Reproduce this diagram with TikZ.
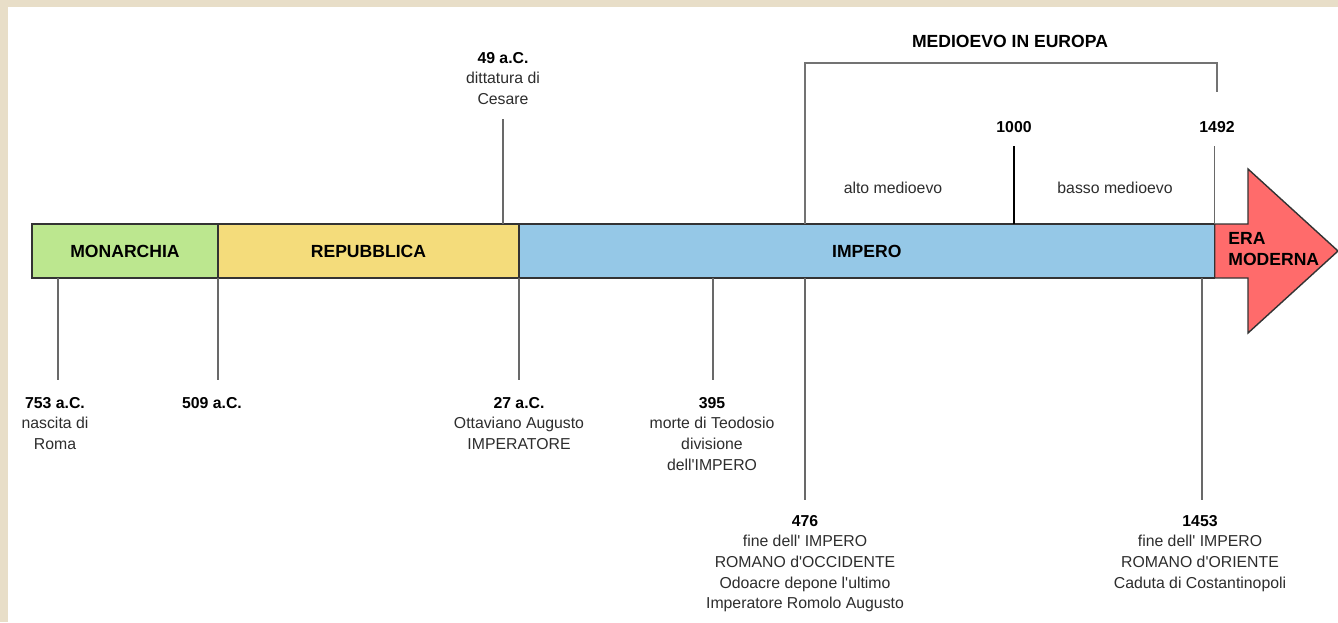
\documentclass[tikz,border=0pt]{standalone}
\usepackage{fontspec}
\setmainfont{Liberation Sans}
\usepackage{xcolor}
\definecolor{tlgreen}{RGB}{188,231,143}
\definecolor{tlyellow}{RGB}{244,220,123}
\definecolor{tlblue}{RGB}{149,200,231}
\definecolor{tlred}{RGB}{255,107,107}
\definecolor{tlframe}{RGB}{232,222,200}
\definecolor{tlgray}{RGB}{105,105,105}
\definecolor{tltext}{RGB}{45,45,45}
\usepackage{tikz}
\usetikzlibrary{positioning, calc}
\newcommand{\apo}{\textquotesingle}

\begin{document}
\begin{tikzpicture}[
  x=0.02cm, y=-0.02cm,
  period/.style={rectangle, draw=black!80, line width=0.8pt, fill=#1, minimum height=1.08cm,
                 inner sep=0pt, outer sep=0pt, anchor=west, font=\fontsize{10}{12}\selectfont\bfseries},
  eventlbl/.style={align=center, inner sep=0pt, anchor=north, text=tltext,
                   font=\fontsize{9}{11.7}\selectfont},
  agelbl/.style={inner sep=0pt, text=tltext, font=\fontsize{9}{11.7}\selectfont},
  tick/.style={draw=tlgray, line width=0.7pt},
  brk/.style={draw=black!55, line width=0.7pt}
]
  % frame
  \fill[tlframe] (0,0) rectangle (1338,622);
  \fill[white] (8,7) rectangle (1338,622);
  \useasboundingbox (0,0) rectangle (1338,622);

  % the bar
  \node[period=tlgreen, minimum width=3.72cm] (mon) at (32,251) {MONARCHIA};
  \node[period=tlyellow, minimum width=6.02cm] (rep) at (mon.east) {REPUBBLICA};
  \node[period=tlblue, minimum width=13.92cm] (imp) at (rep.east) {IMPERO};
  \draw[draw=black!80, line width=0.8pt, fill=tlred] (imp.north east) -- (1248,224) -- (1248,169)
    -- (1338,251) -- (1248,333) -- (1248,278) -- (imp.south east) -- cycle;
  \node[anchor=west, align=left, inner sep=0pt, font=\fontsize{10}{12}\selectfont\bfseries] (era)
    at (1228,249) {ERA\\MODERNA};

  % dates below the bar
  \coordinate (t753) at (58,278);
  \coordinate (t395) at (713,278);
  \coordinate (t476) at (805,278);
  \coordinate (t1453) at (1202,278);
  \node[eventlbl] (l753) at (55,397) {\textbf{\color{black}753 a.C.}\\nascita di\\Roma};
  \node[eventlbl] (l509) at (212,397) {\textbf{\color{black}509 a.C.}};
  \node[eventlbl] (l27) at (519,397) {\textbf{\color{black}27 a.C.}\\Ottaviano Augusto\\IMPERATORE};
  \node[eventlbl] (l395) at (712,397) {\textbf{\color{black}395}\\morte di Teodosio\\divisione\\dell\apo IMPERO};
  \node[eventlbl] (l476) at (805,515)
    {\textbf{\color{black}476}\\fine dell\apo{} IMPERO\\ROMANO d\apo OCCIDENTE\\Odoacre depone l\apo ultimo\\Imperatore Romolo Augusto};
  \node[eventlbl] (l1453) at (1200,515)
    {\textbf{\color{black}1453}\\fine dell\apo{} IMPERO\\ROMANO d\apo ORIENTE\\Caduta di Costantinopoli};

  \draw[tick, shorten >=0.34cm] (t753) -- (l753.north -| t753);
  \draw[tick, shorten >=0.34cm] (mon.south east) -- (l509.north -| mon.south east);
  \draw[tick, shorten >=0.34cm] (rep.south east) -- (l27.north -| rep.south east);
  \draw[tick, shorten >=0.34cm] (t395) -- (l395.north -| t395);
  \draw[tick, shorten >=0.3cm] (t476) -- (l476.north -| t476);
  \draw[tick, shorten >=0.3cm] (t1453) -- (l1453.north -| t1453);

  % dates above the bar
  \coordinate (t49) at (503,224);
  \coordinate (t1000) at (1014,224);
  \node[eventlbl] (l49) at (503,52) {\textbf{\color{black}49 a.C.}\\dittatura di\\Cesare};
  \node[eventlbl] (l1000) at (1014,121) {\textbf{\color{black}1000}};
  \node[eventlbl] (l1492) at (1217,121) {\textbf{\color{black}1492}};
  \draw[tick, shorten >=0.28cm] (t49) -- (l49.south -| t49);
  \draw[line width=0.7pt, shorten >=0.26cm] (t1000) -- (l1000.south -| t1000);
  \draw[tick, shorten >=0.26cm] (imp.north east) -- (l1492.south -| imp.north east);

  % middle ages
  \coordinate (brL) at (805,224);
  \coordinate (brTL) at (805,63);
  \coordinate (brTR) at (1217,63);
  \coordinate (brR) at (1217,92);
  \draw[brk] (brL) -- (brTL) -- (brTR) -- (brR);
  \node[eventlbl, font=\fontsize{10}{12}\selectfont\bfseries, text=black] (medio) at (1010,35) {MEDIOEVO IN EUROPA};
  \node[agelbl] (alto) at (893,188) {alto medioevo};
  \node[agelbl] (basso) at (1115,188) {basso medioevo};
\end{tikzpicture}
\end{document}
